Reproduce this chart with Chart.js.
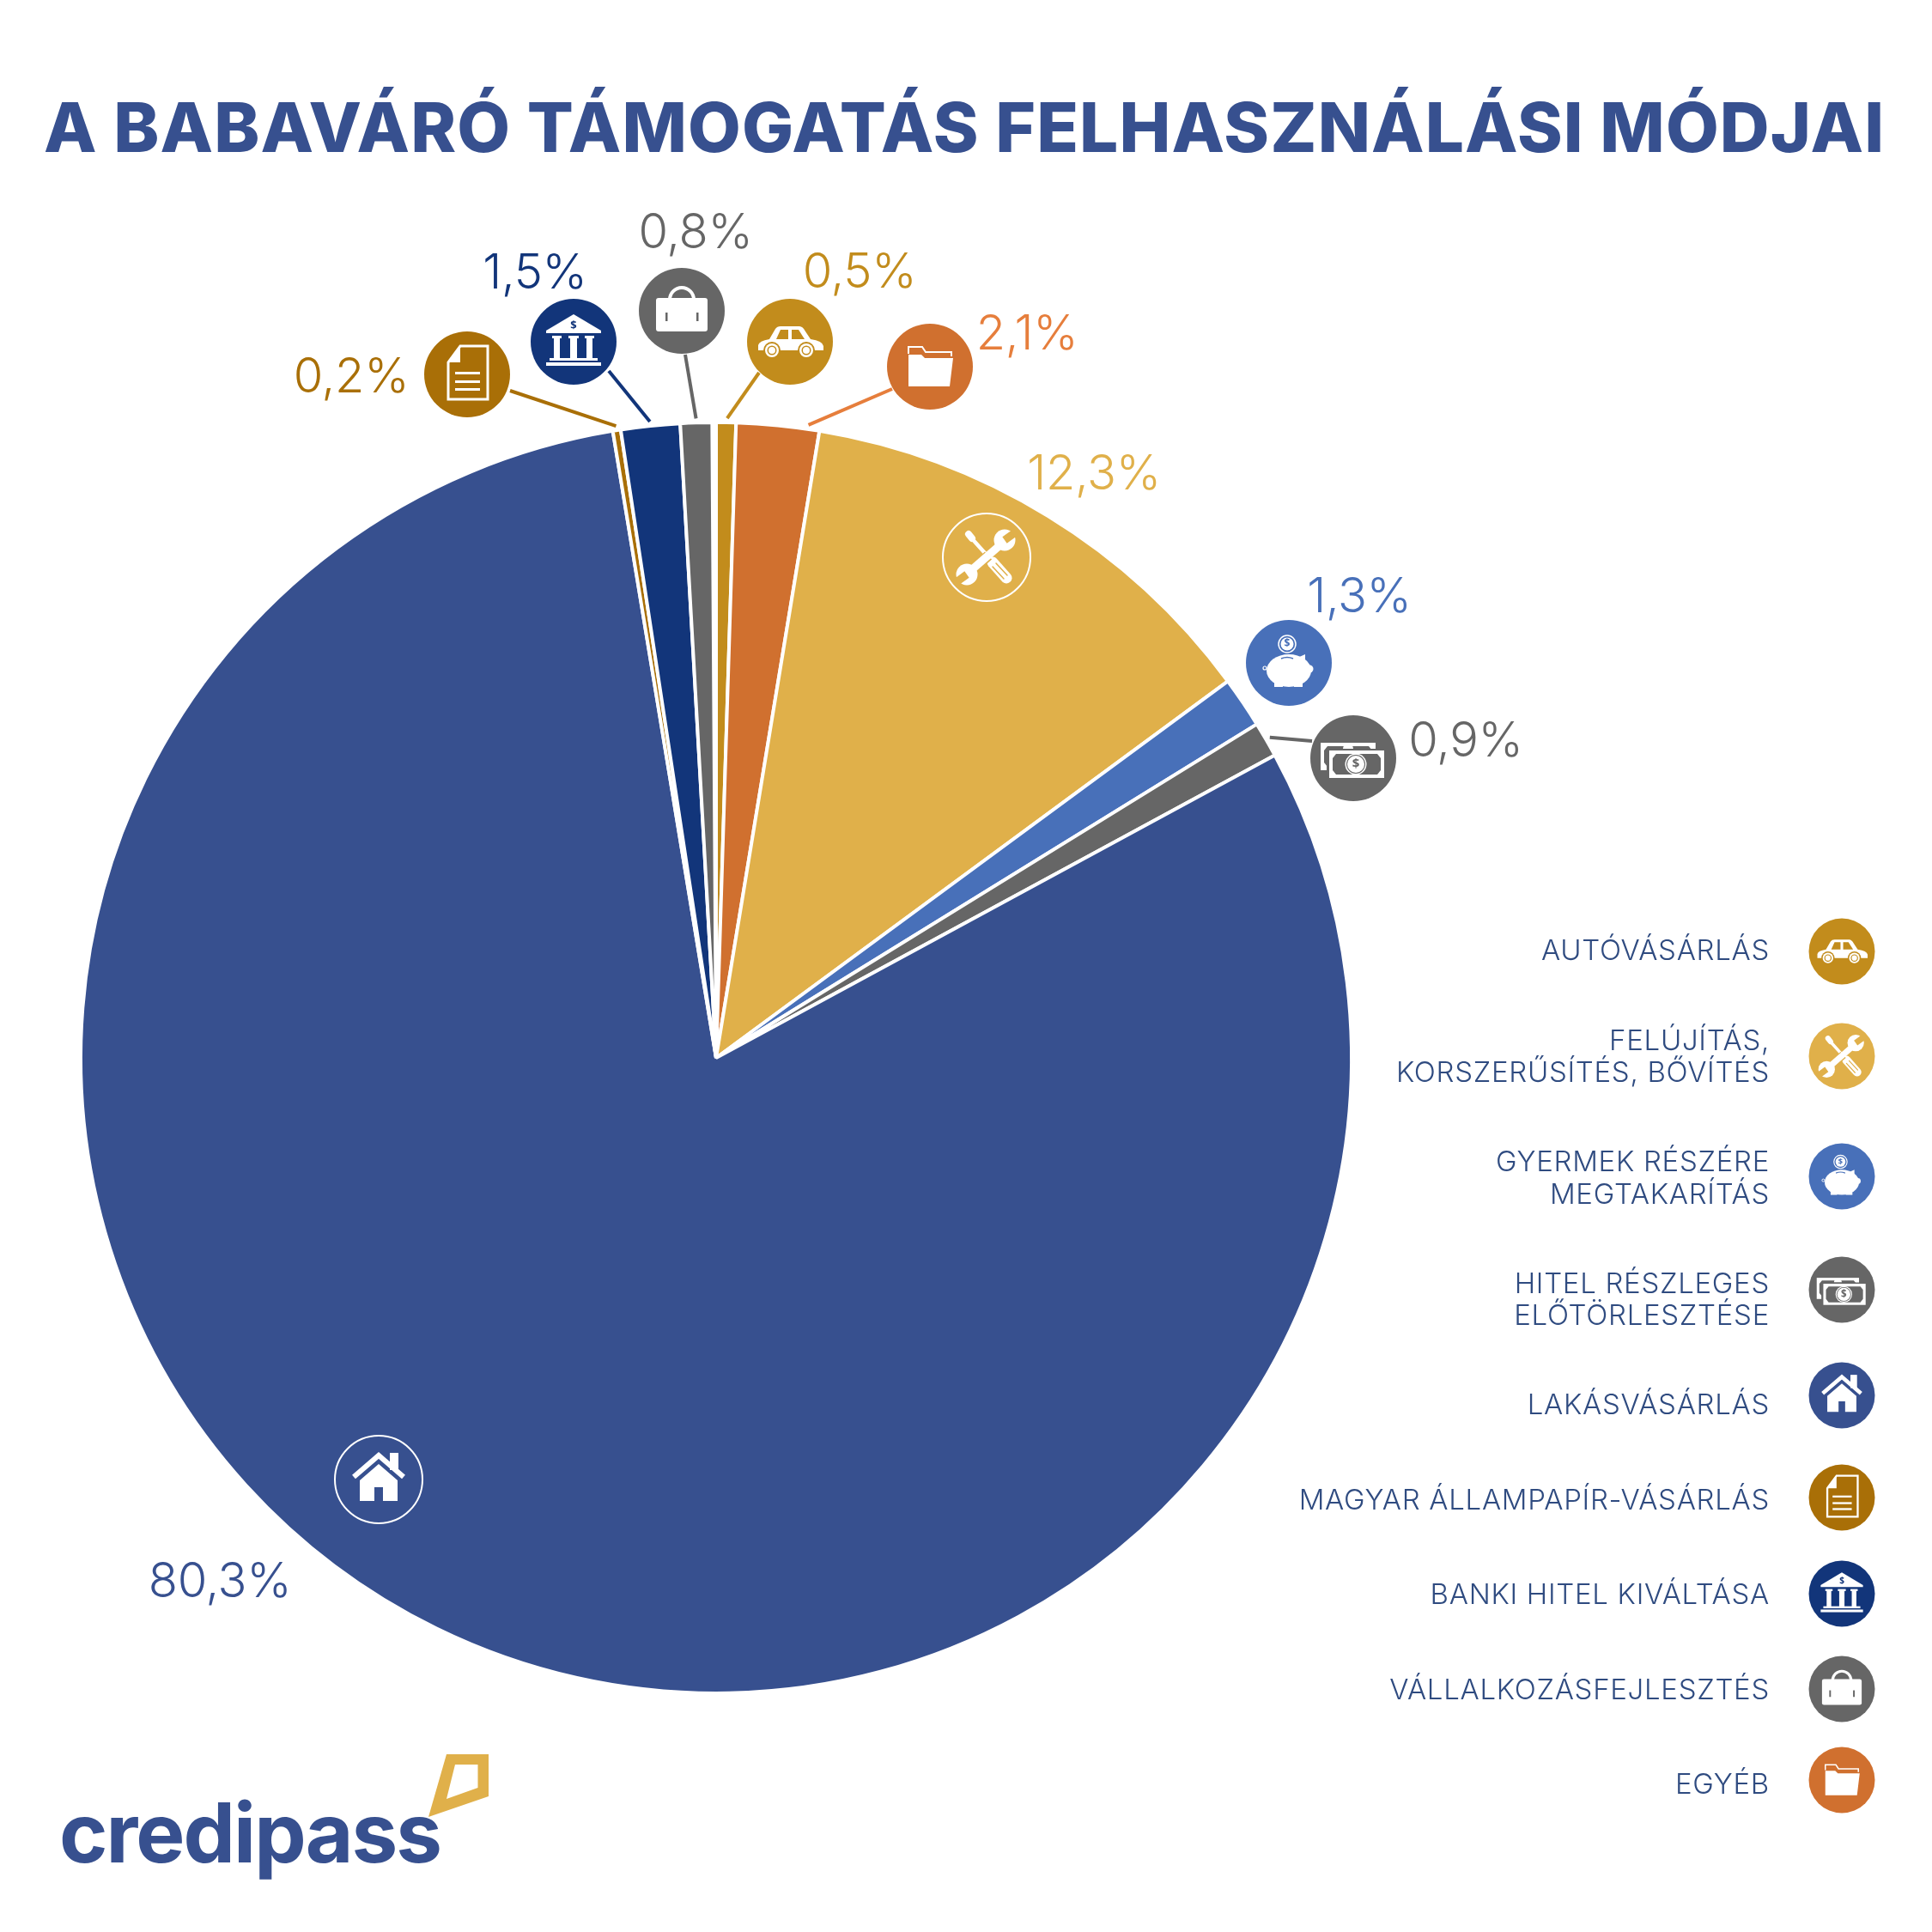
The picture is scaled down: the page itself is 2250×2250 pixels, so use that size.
<!DOCTYPE html>
<html>
<head>
<meta charset="utf-8">
<title>A babaváró támogatás felhasználási módjai</title>
<script src="https://cdn.jsdelivr.net/npm/chart.js@4"></script>
<style>
  html, body { margin: 0; padding: 0; background: #fff; }
  canvas { display: block; }
</style>
</head>
<body>
<canvas id="pieChart" width="2250" height="2250"></canvas>
<script>
// --------- DATA ----------
const titleText = 'A BABAVÁRÓ TÁMOGATÁS FELHASZNÁLÁSI MÓDJAI';
const categories = ['Autóvásárlás', 'Egyéb', 'Felújítás, korszerűsítés, bővítés', 'Gyermek részére megtakarítás',
  'Hitel részleges előtörlesztése', 'Lakásvásárlás', 'Magyar állampapír-vásárlás', 'Banki hitel kiváltása', 'Vállalkozásfejlesztés'];
const shares = [0.5, 2.1, 12.3, 1.3, 0.9, 80.3, 0.2, 1.5, 0.8];
const shareLabels = ['0,5%', '2,1%', '12,3%', '1,3%', '0,9%', '80,3%', '0,2%', '1,5%', '0,8%'];
const legendLines = [['AUTÓVÁSÁRLÁS'], ['FELÚJÍTÁS,', 'KORSZERŰSÍTÉS, BŐVÍTÉS'], ['GYERMEK RÉSZÉRE', 'MEGTAKARÍTÁS'],
  ['HITEL RÉSZLEGES', 'ELŐTÖRLESZTÉSE'], ['LAKÁSVÁSÁRLÁS'], ['MAGYAR ÁLLAMPAPÍR-VÁSÁRLÁS'], ['BANKI HITEL KIVÁLTÁSA'],
  ['VÁLLALKOZÁSFEJLESZTÉS'], ['EGYÉB']];
const legendSlices = [0, 2, 3, 4, 5, 6, 7, 8, 1]; // slice index of each legend row

// --------- STYLE & LAYOUT ----------
const sliceColors = ['#c28c1c', '#d0702f', '#e0b04a', '#4870b9', '#666666', '#37508f', '#a96f07', '#12357a', '#666666'];
const labelColors = ['#c28c1c', '#e67e3c', '#e0b04a', '#4870b9', '#666666', '#37508f', '#a96f07', '#12357a', '#666666'];
const sliceIcons = ['car', 'folder', 'tools', 'piggy', 'money', 'house', 'doc', 'bank', 'case'];
const BLUE = '#37508f', LEGEND_TEXT = '#2f4b80', CX = 834, CY = 1232, RADIUS = 740;

// per slice: icon circle, share label, leader start (sx, sy) and where it touches the slice (0-1 along the arc)
const badges = {
  0: { x: 920, y: 398, lx: 1001, ly: 318, sx: 884, sy: 434, at: 0.55 },
  1: { x: 1083, y: 427, lx: 1196, ly: 390, sx: 1039, sy: 453, at: 0.86 },
  2: { inner: true, x: 1149, y: 649, lx: 1274, ly: 553 },
  3: { x: 1501, y: 772, lx: 1583, ly: 696 },
  4: { x: 1576, y: 883, lx: 1707, ly: 864, sx: 1528, sy: 863, at: 0.5 },
  5: { inner: true, x: 441, y: 1723, lx: 256, ly: 1843 },
  6: { x: 544, y: 436, lx: 409, ly: 440, sx: 594, sy: 455, at: 0.5 },
  7: { x: 668, y: 398, lx: 623, ly: 319, sx: 709, sy: 432, at: 0.5 },
  8: { x: 794, y: 362, lx: 810, ly: 272, sx: 798, sy: 413, at: 0.5 }
};
const legendIconY = [1108, 1230, 1370, 1502, 1625, 1744, 1856, 1967, 2073];
const legendTextY = [[1108], [1213, 1250], [1354, 1392], [1496, 1533], [1637], [1748], [1858], [1969], [2079]];

// --------- ICONS (drawn around 0,0 for a circle of radius 50) ----------
function poly(ctx, pts) {
  ctx.beginPath();
  pts.forEach((p, i) => i ? ctx.lineTo(p[0], p[1]) : ctx.moveTo(p[0], p[1]));
  ctx.closePath();
}
function dollar(ctx, x, y, size, color) {
  ctx.fillStyle = color;
  ctx.font = '700 ' + size + 'px "Open Sans"';
  ctx.textAlign = 'center';
  ctx.textBaseline = 'middle';
  ctx.fillText('$', x, y);
}
const icons = {
  doc(ctx, bg) {
    ctx.strokeStyle = '#fff'; ctx.lineWidth = 3;
    poly(ctx, [[-8, -33], [24, -33], [24, 29], [-22, 29], [-22, -14]]);
    ctx.stroke();
    ctx.fillStyle = '#fff';
    poly(ctx, [[-8, -33], [-8, -14], [-22, -14]]);
    ctx.fill();
    [-3, 7, 16].forEach(y => ctx.fillRect(-14, y, 29, 3));
  },
  bank(ctx, bg) {
    ctx.fillStyle = '#fff';
    poly(ctx, [[0, -32], [32, -13], [32, -10], [-32, -10], [-32, -13]]);
    ctx.fill();
    ctx.fillRect(-25, -7, 11, 3); ctx.fillRect(-6, -7, 12, 3); ctx.fillRect(13, -7, 11, 3);
    ctx.fillRect(-23, -5, 7, 25); ctx.fillRect(-4, -5, 8, 25); ctx.fillRect(15, -5, 7, 25);
    ctx.fillRect(-28, 19, 56, 3);
    ctx.fillRect(-32, 24, 64, 4);
    dollar(ctx, 0, -19, 13, bg);
  },
  case(ctx, bg) {
    ctx.strokeStyle = '#fff'; ctx.lineWidth = 4;
    ctx.beginPath(); ctx.arc(0, -13, 14, Math.PI, 0); ctx.stroke();
    ctx.fillStyle = '#fff';
    ctx.beginPath(); ctx.roundRect(-30, -15, 60, 39, 3); ctx.fill();
    ctx.fillStyle = bg;
    ctx.fillRect(-19, 2, 2.5, 10); ctx.fillRect(17, 2, 2.5, 10);
  },
  car(ctx, bg) {
    ctx.fillStyle = '#fff';
    ctx.beginPath();
    ctx.moveTo(-37, 10); ctx.lineTo(-37, 4);
    ctx.quadraticCurveTo(-36, -1, -24, -3);
    ctx.lineTo(-17, -15);
    ctx.quadraticCurveTo(-15, -18, -11, -18);
    ctx.lineTo(11, -18);
    ctx.quadraticCurveTo(15, -18, 18, -12);
    ctx.lineTo(24, -3);
    ctx.quadraticCurveTo(38, -1, 39, 5);
    ctx.lineTo(39, 10); ctx.closePath(); ctx.fill();
    ctx.fillStyle = bg;
    poly(ctx, [[-16, -3], [-11, -14], [-2, -14], [-2, -3]]); ctx.fill();
    poly(ctx, [[2, -14], [10, -14], [17, -3], [2, -3]]); ctx.fill();
    [-21, 19].forEach(x => {
      ctx.fillStyle = bg;
      ctx.beginPath(); ctx.arc(x, 10, 10, 0, Math.PI * 2); ctx.fill();
      ctx.fillStyle = '#fff';
      ctx.beginPath(); ctx.arc(x, 10, 8, 0, Math.PI * 2); ctx.fill();
      ctx.fillStyle = bg;
      ctx.beginPath(); ctx.arc(x, 10, 5.5, 0, Math.PI * 2); ctx.fill();
      ctx.fillStyle = '#fff';
      ctx.beginPath(); ctx.arc(x, 10, 4, 0, Math.PI * 2); ctx.fill();
    });
  },
  folder(ctx, bg) {
    ctx.strokeStyle = '#fff'; ctx.lineWidth = 2;
    ctx.beginPath();
    ctx.moveTo(-25, -15); ctx.lineTo(-25, -23); ctx.lineTo(-9, -23); ctx.lineTo(-5, -17); ctx.lineTo(25, -17); ctx.lineTo(25, -12);
    ctx.stroke();
    ctx.fillStyle = '#fff';
    ctx.beginPath();
    ctx.moveTo(-25, -14); ctx.lineTo(-10, -14); ctx.lineTo(-6, -10); ctx.lineTo(27, -10);
    ctx.lineTo(23, 23); ctx.lineTo(-25, 23); ctx.closePath(); ctx.fill();
  },
  tools(ctx, bg) {
    ctx.lineCap = 'round';
    ctx.strokeStyle = '#fff';
    ctx.lineWidth = 4.5;
    ctx.beginPath(); ctx.moveTo(-20, -25); ctx.lineTo(6, 4); ctx.stroke();
    ctx.lineWidth = 8;
    ctx.beginPath(); ctx.moveTo(-21, -27); ctx.lineTo(-17, -22); ctx.stroke();
    ctx.lineWidth = 13;
    ctx.beginPath(); ctx.moveTo(7, 6); ctx.lineTo(23, 24); ctx.stroke();
    ctx.strokeStyle = bg; ctx.lineWidth = 1.5;
    ctx.beginPath(); ctx.moveTo(11, 7); ctx.lineTo(24, 21); ctx.moveTo(7, 11); ctx.lineTo(20, 25); ctx.stroke();
    ctx.strokeStyle = bg; ctx.lineWidth = 12; ctx.lineCap = 'butt';
    ctx.beginPath(); ctx.moveTo(-7, 6); ctx.lineTo(2, -2); ctx.stroke();
    ctx.strokeStyle = '#fff'; ctx.lineWidth = 9;
    ctx.beginPath(); ctx.moveTo(-19, 16); ctx.lineTo(19, -17); ctx.stroke();
    [[21, -20, 1], [-23, 20, -1]].forEach(h => {
      ctx.fillStyle = '#fff';
      ctx.beginPath(); ctx.arc(h[0], h[1], 12.5, 0, Math.PI * 2); ctx.fill();
      ctx.save();
      ctx.translate(h[0], h[1]);
      ctx.rotate(h[2] > 0 ? -Math.PI / 5 : Math.PI - Math.PI / 5);
      ctx.fillStyle = bg;
      ctx.fillRect(0, -4.5, 16, 9);
      ctx.restore();
    });
  },
  piggy(ctx, bg) {
    ctx.fillStyle = '#fff';
    ctx.beginPath(); ctx.ellipse(0, 9, 26, 19, 0, 0, Math.PI * 2); ctx.fill();
    ctx.fillRect(-17, 18, 10, 10); ctx.fillRect(6, 18, 10, 10);
    poly(ctx, [[10, -6], [19, -10], [19, 2]]); ctx.fill();
    ctx.beginPath(); ctx.arc(24, 7, 4.5, 0, Math.PI * 2); ctx.fill();
    ctx.strokeStyle = bg; ctx.lineWidth = 1.5;
    ctx.beginPath(); ctx.moveTo(-9, -5); ctx.quadraticCurveTo(-2, -8, 5, -5); ctx.stroke();
    ctx.strokeStyle = '#fff'; ctx.lineWidth = 1.2;
    ctx.beginPath(); ctx.arc(-28, 6, 2, 0, Math.PI * 2); ctx.stroke();
    ctx.lineWidth = 1.5;
    ctx.beginPath(); ctx.arc(-2, -22, 10, 0, Math.PI * 2); ctx.stroke();
    ctx.fillStyle = '#fff';
    ctx.beginPath(); ctx.arc(-2, -22, 7.5, 0, Math.PI * 2); ctx.fill();
    dollar(ctx, -2, -22, 12, bg);
  },
  money(ctx, bg) {
    const note = (x, y, w, h, inset) => {
      ctx.fillStyle = '#fff';
      ctx.fillRect(x, y, w, h);
      ctx.fillStyle = bg;
      poly(ctx, [[x + inset + 4, y + inset], [x + w - inset - 4, y + inset], [x + w - inset, y + inset + 5],
        [x + w - inset, y + h - inset - 5], [x + w - inset - 4, y + h - inset], [x + inset + 4, y + h - inset],
        [x + inset, y + h - inset - 5], [x + inset, y + inset + 5]]);
      ctx.fill();
    };
    note(-38, -18, 64, 32, 4);
    ctx.fillStyle = '#fff';
    ctx.beginPath(); ctx.arc(-6, -11, 6, Math.PI, 0); ctx.fill();
    ctx.fillStyle = bg;
    ctx.fillRect(-31, -11, 64, 37);
    note(-28, -9, 64, 32, 4);
    ctx.fillStyle = '#fff';
    ctx.beginPath(); ctx.arc(3, 7, 12.5, 0, Math.PI * 2); ctx.fill();
    ctx.fillStyle = bg;
    ctx.beginPath(); ctx.arc(3, 7, 11, 0, Math.PI * 2); ctx.fill();
    ctx.fillStyle = '#fff';
    ctx.beginPath(); ctx.arc(3, 7, 10, 0, Math.PI * 2); ctx.fill();
    dollar(ctx, 3, 7, 15, bg);
  },
  house(ctx, bg) {
    ctx.fillStyle = '#fff';
    ctx.fillRect(13, -31, 10, 20);
    ctx.strokeStyle = '#fff'; ctx.lineWidth = 6; ctx.lineJoin = 'miter';
    ctx.beginPath(); ctx.moveTo(-29, -3); ctx.lineTo(0, -28); ctx.lineTo(29, -3); ctx.stroke();
    poly(ctx, [[0, -18], [22, 1], [22, 25], [5, 25], [5, 9], [-5, 9], [-5, 25], [-22, 25], [-22, 1]]);
    ctx.fill();
  }
};
function drawIcon(ctx, name, x, y, r, bg) {
  ctx.save();
  ctx.translate(x, y);
  ctx.scale(r / 50, r / 50);
  icons[name](ctx, bg);
  ctx.restore();
}

// ---------- Everything around the pie ----------
const annotations = {
  id: 'annotations',
  afterDatasetsDraw(chart) {
    const ctx = chart.ctx;
    const arcs = chart.getDatasetMeta(0).data;

    ctx.save();
    ctx.textBaseline = 'middle';

    // title
    ctx.fillStyle = BLUE;
    ctx.font = '800 80px Inter';
    ctx.textAlign = 'left';
    ctx.letterSpacing = '0px';
    const natural = ctx.measureText(titleText).width;
    ctx.letterSpacing = ((2143 - natural) / (titleText.length - 1)) + 'px';
    ctx.fillText(titleText, 51, 153);
    ctx.letterSpacing = '0px';

    // leaders, badges and share labels
    shares.forEach((v, i) => {
      const b = badges[i];
      const color = sliceColors[i];
      if (b.at !== undefined) {
        const a = arcs[i];
        const ang = a.startAngle + (a.endAngle - a.startAngle) * b.at;
        ctx.strokeStyle = labelColors[i] === '#e67e3c' ? labelColors[i] : color;
        ctx.lineWidth = 4;
        ctx.beginPath();
        ctx.moveTo(a.x + Math.cos(ang) * (a.outerRadius + 5), a.y + Math.sin(ang) * (a.outerRadius + 5));
        ctx.lineTo(b.sx, b.sy);
        ctx.stroke();
      }
      if (b.inner) {
        ctx.strokeStyle = '#fff';
        ctx.lineWidth = 2;
        ctx.beginPath(); ctx.arc(b.x, b.y, 51, 0, Math.PI * 2); ctx.stroke();
      } else {
        ctx.fillStyle = color;
        ctx.beginPath(); ctx.arc(b.x, b.y, 50, 0, Math.PI * 2); ctx.fill();
      }
      drawIcon(ctx, sliceIcons[i], b.x, b.y, 50, color);

      ctx.fillStyle = labelColors[i];
      ctx.font = '300 56px Inter';
      ctx.letterSpacing = '-0.3px';
      ctx.textAlign = 'center';
      ctx.textBaseline = 'middle';
      ctx.fillText(shareLabels[i], b.lx, b.ly);
      ctx.letterSpacing = '0px';
    });

    // legend
    legendSlices.forEach((s, row) => {
      ctx.fillStyle = sliceColors[s];
      ctx.beginPath(); ctx.arc(2145, legendIconY[row], 38.5, 0, Math.PI * 2); ctx.fill();
      drawIcon(ctx, sliceIcons[s], 2145, legendIconY[row], 38.5, sliceColors[s]);
      ctx.fillStyle = LEGEND_TEXT;
      ctx.font = '300 33px Inter';
      ctx.letterSpacing = '0.7px';
      ctx.textAlign = 'right';
      ctx.textBaseline = 'middle';
      legendLines[row].forEach((line, n) => ctx.fillText(line, 2061, legendTextY[row][n]));
      ctx.letterSpacing = '0px';
    });

    // logo
    ctx.fillStyle = BLUE;
    ctx.font = '700 96px Inter';
    ctx.textAlign = 'left';
    ctx.textBaseline = 'alphabetic';
    ctx.letterSpacing = '0px';
    const logoW = ctx.measureText('credipass').width;
    ctx.letterSpacing = ((446 - logoW) / 8) + 'px';
    ctx.fillText('credipass', 69, 2169);
    ctx.letterSpacing = '0px';
    ctx.fillStyle = '#e0b04a';
    ctx.beginPath();
    ctx.moveTo(520, 2043); ctx.lineTo(569, 2043); ctx.lineTo(569, 2092); ctx.lineTo(499, 2116); ctx.closePath();
    ctx.moveTo(530, 2055); ctx.lineTo(520, 2095); ctx.lineTo(556.5, 2082); ctx.lineTo(556.5, 2055); ctx.closePath();
    ctx.fill('evenodd');

    ctx.restore();
  }
};

// --------- PIE ----------
new Chart(document.getElementById('pieChart').getContext('2d'), {
  type: 'pie',
  data: {
    labels: categories,
    datasets: [{
      data: shares,
      backgroundColor: sliceColors,
      borderColor: '#ffffff',
      borderWidth: 4,
      hoverOffset: 0
    }]
  },
  options: {
    responsive: false,
    devicePixelRatio: 1,
    animation: false,
    radius: RADIUS,
    circumference: 360 * 0.999, // shares add up to 99.9, the pie is not stretched over the gap
    layout: { padding: { left: CX - 750, right: 2250 - CX - 750, top: CY - 750, bottom: 2250 - CY - 750 } },
    plugins: { legend: { display: false }, tooltip: { enabled: false } }
  },
  plugins: [annotations]
});
</script>
</body>
</html>
